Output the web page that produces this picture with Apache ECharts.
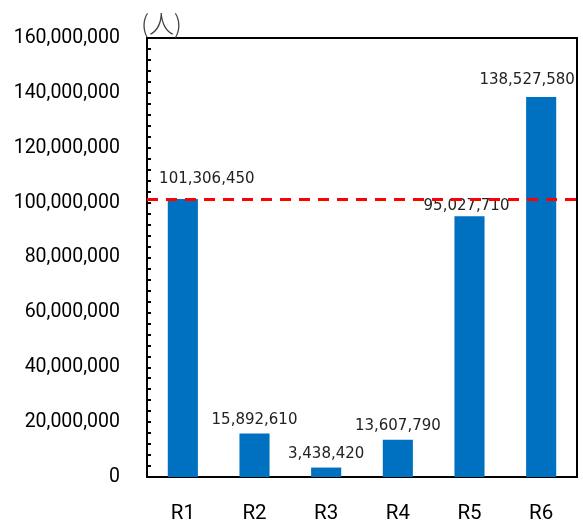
<!DOCTYPE html>
<html>
<head>
<meta charset="utf-8">
<script src="https://cdn.jsdelivr.net/npm/echarts@6/dist/echarts.min.js"></script>
<style>
  html, body { margin: 0; padding: 0; background: #fff; }
  #chart { width: 583px; height: 522px; }
</style>
</head>
<body>
<div id="chart"></div>
<script>
// Regions and their population counts
const categories = ['R1', 'R2', 'R3', 'R4', 'R5', 'R6'];
const values = [101306450, 15892610, 3438420, 13607790, 95027710, 138527580];
// Reference line drawn at the R1 level
const referenceValue = 101306450;
const unitLabel = '(人)';

// Nudges so the value labels sit clear of the frame and the dashed line
const labelShift = [[24, -6], [0, 0], [0, 0], [0, 0], [-3, 3], [-14, -3]];

const fmt = v => v.toLocaleString('en-US');

const chart = echarts.init(document.getElementById('chart'), null, { renderer: 'canvas' });

chart.setOption({
  animation: false,
  grid: {
    left: 147, right: 6, top: 38, bottom: 45,
    outerBoundsMode: 'none',
    containLabel: false,
    show: true, borderColor: '#000', borderWidth: 2, backgroundColor: 'transparent'
  },
  xAxis: {
    type: 'category',
    data: categories,
    axisLine: { show: true, lineStyle: { color: '#000', width: 2 } },
    axisTick: { show: false },
    axisLabel: { color: '#000', fontSize: 20.5, fontFamily: 'Roboto', margin: 26 }
  },
  yAxis: {
    type: 'value',
    min: 0, max: 160000000, interval: 20000000,
    axisLine: { show: true, lineStyle: { color: '#000', width: 2 } },
    axisTick: { show: true, inside: true, length: 4, lineStyle: { color: '#000', width: 2 } },
    minorTick: { show: true, splitNumber: 5, length: 4, lineStyle: { color: '#000', width: 2 } },
    splitLine: { show: false },
    axisLabel: { color: '#000', fontSize: 19.5, fontFamily: 'Roboto', margin: 27, formatter: v => fmt(v) }
  },
  graphic: [{
    type: 'text',
    left: 141,
    top: 11,
    style: { text: unitLabel, fill: '#404040', fontSize: 25, fontFamily: 'Noto Sans CJK JP', fontWeight: 300 }
  }],
  series: [{
    type: 'bar',
    barWidth: '42%',
    data: values.map((v, i) => ({
      value: v,
      label: { offset: labelShift[i] }
    })),
    itemStyle: { color: '#0070C0' },
    label: {
      show: true,
      position: 'top',
      distance: 6,
      color: '#222',
      fontSize: 15,
      fontFamily: 'DejaVu Sans',
      formatter: p => fmt(p.value)
    },
    markLine: {
      silent: true,
      symbol: ['none', 'none'],
      label: { show: false },
      lineStyle: { color: '#FF0000', width: 3, type: [11, 8] },
      data: [{ yAxis: referenceValue }]
    }
  }]
});
</script>
</body>
</html>
